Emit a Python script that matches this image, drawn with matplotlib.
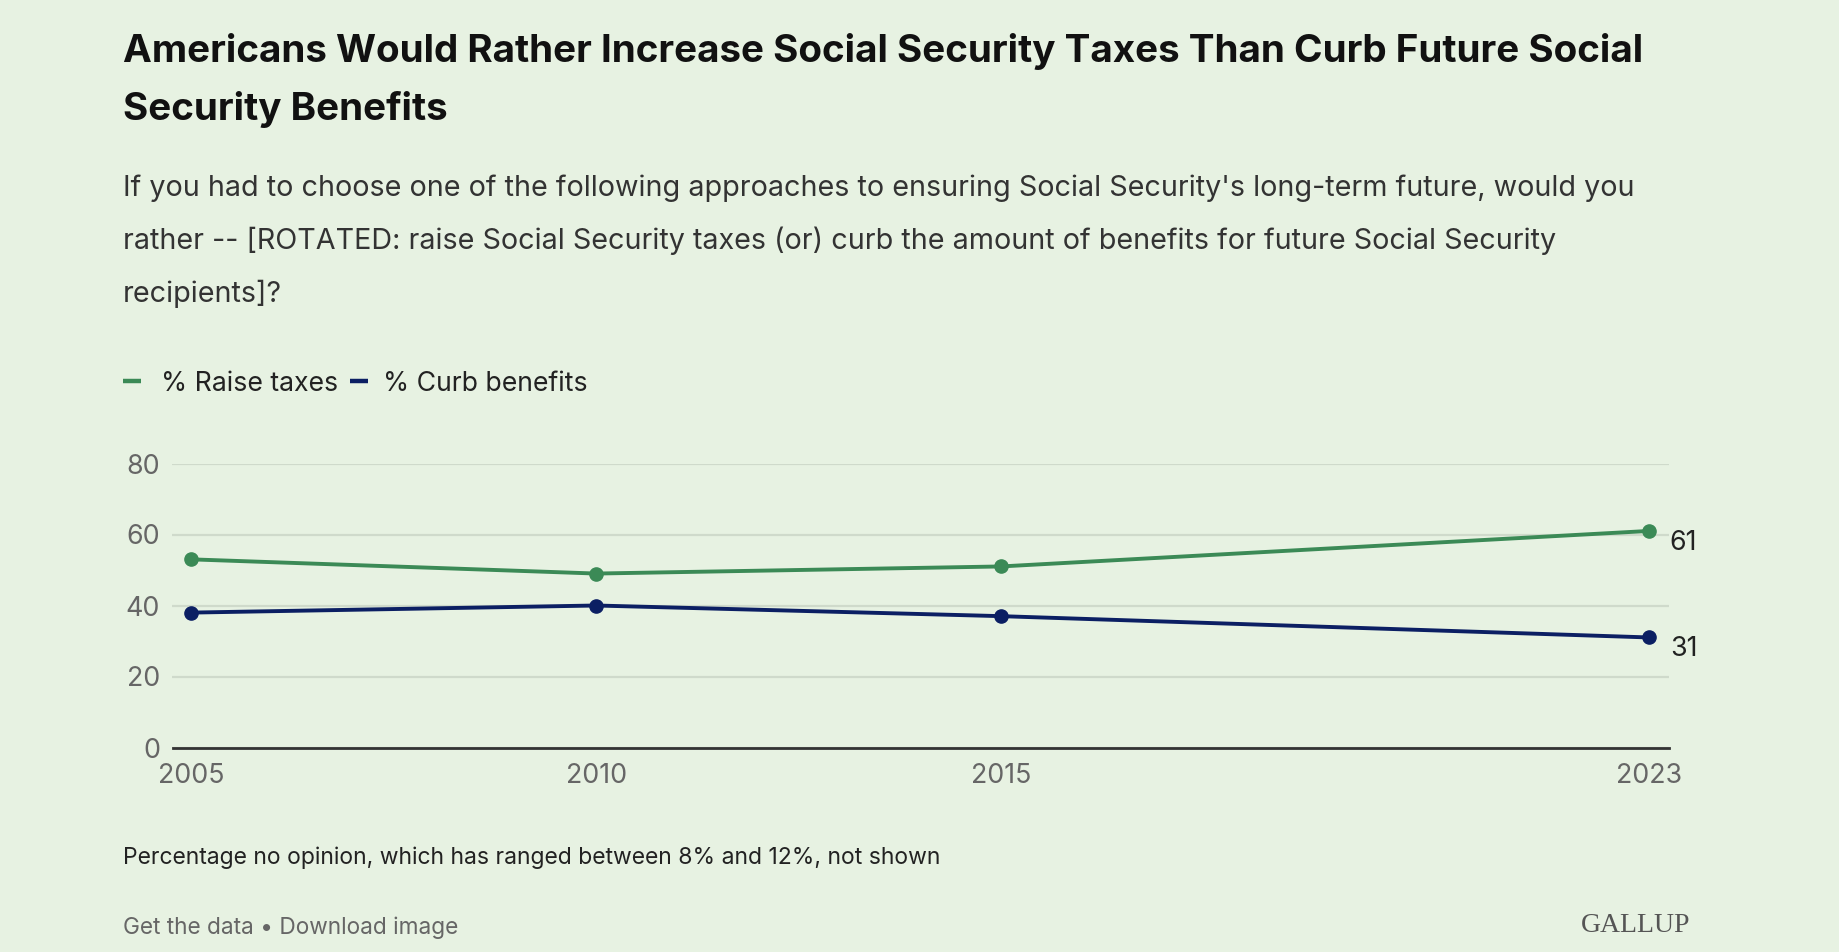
import matplotlib
matplotlib.use("Agg")
import matplotlib.pyplot as plt
from matplotlib.lines import Line2D

years = [2005, 2010, 2015, 2023]
raise_taxes = [53, 49, 51, 61]
curb_benefits = [38, 40, 37, 31]
series_names = ["% Raise taxes", "% Curb benefits"]
y_ticks = [0, 20, 40, 60, 80]
x_ticks = [2005, 2010, 2015, 2023]

title_lines = [
    "Americans Would Rather Increase Social Security Taxes Than Curb Future Social",
    "Security Benefits",
]
subtitle_lines = [
    "If you had to choose one of the following approaches to ensuring Social Security's long-term future, would you",
    "rather -- [ROTATED: raise Social Security taxes (or) curb the amount of benefits for future Social Security",
    "recipients]?",
]
footnote = "Percentage no opinion, which has ranged between 8% and 12%, not shown"

BG = "#e7f2e2"
GREEN = "#3b8a56"
NAVY = "#0b1f63"
W, H = 1840, 952

plt.rcParams['font.family'] = ['Inter', 'DejaVu Sans']
fig = plt.figure(figsize=(W / 100, H / 100), dpi=100, facecolor=BG)

def fx(px):
    return px / W

def fy(py):
    return 1 - py / H

# Title
for i, line in enumerate(title_lines):
    fig.text(fx(123), fy(47 + 59 * i), line, fontsize=27.8, fontweight='bold', color='#111111',
             va='center_baseline', ha='left')
for i, line in enumerate(subtitle_lines):
    fig.text(fx(123), fy(185 + 53 * i), line, fontsize=20.7, color='#333333',
             va='center_baseline', ha='left')

# Legend
leg_y = 381
fig.add_artist(Line2D([fx(123), fx(141)], [fy(leg_y), fy(leg_y)], color=GREEN, lw=3.2,
                      solid_capstyle='butt'))
fig.text(fx(161), fy(leg_y), series_names[0], fontsize=19.2, color='#222222',
         va='center_baseline', ha='left')
fig.add_artist(Line2D([fx(350), fx(368)], [fy(leg_y), fy(leg_y)], color=NAVY, lw=3.2,
                      solid_capstyle='butt'))
fig.text(fx(383), fy(leg_y), series_names[1], fontsize=19.2, color='#222222',
         va='center_baseline', ha='left')

# Axes
left, right = 172.5, 1668.7
top, bottom = 463.5, 747.5
ax = fig.add_axes([fx(left), fy(bottom), (right - left) / W, (bottom - top) / H])
ax.set_facecolor(BG)
ax.set_xlim(2004.768, 2023.246)
ax.set_ylim(0, 80)
for s in ['top', 'right', 'left']:
    ax.spines[s].set_visible(False)
ax.spines['bottom'].set_color('#333333')
ax.spines['bottom'].set_linewidth(2)
ax.set_yticks(y_ticks)
ax.set_xticks(x_ticks)
ax.set_xticklabels([str(x) for x in x_ticks])
ax.tick_params(axis='both', length=0, labelsize=19.3, labelcolor='#666666')
ax.tick_params(axis='y', pad=9)
ax.tick_params(axis='x', pad=11)
ax.grid(axis='y', color='#cfdacb', linewidth=1.6)
ax.set_axisbelow(True)

ax.plot(years, raise_taxes, color=GREEN, lw=2.8, marker='o', markersize=9.5, clip_on=False, zorder=3)
ax.plot(years, curb_benefits, color=NAVY, lw=2.8, marker='o', markersize=9.5, clip_on=False, zorder=3)
ax.annotate(str(raise_taxes[-1]), (years[-1], raise_taxes[-1]), xytext=(21, -12),
            textcoords='offset pixels', fontsize=19.3, color='#222222', va='center', ha='left',
            annotation_clip=False)
ax.annotate(str(curb_benefits[-1]), (years[-1], curb_benefits[-1]), xytext=(21, -12),
            textcoords='offset pixels', fontsize=19.3, color='#222222', va='center', ha='left',
            annotation_clip=False)

# Footer
fig.text(fx(123), fy(855), footnote, fontsize=16.5, color='#222222', va='center_baseline', ha='left')
fig.text(fx(123), fy(925), "Get the data \u2022 Download image", fontsize=16.3, color='#666666',
         va='center_baseline', ha='left')
fig.text(fx(1690), fy(922), "GALLUP", fontsize=20, color='#555555', family='Liberation Serif',
         va='center_baseline', ha='right')

fig.savefig("out.png", dpi=100, facecolor=BG)
